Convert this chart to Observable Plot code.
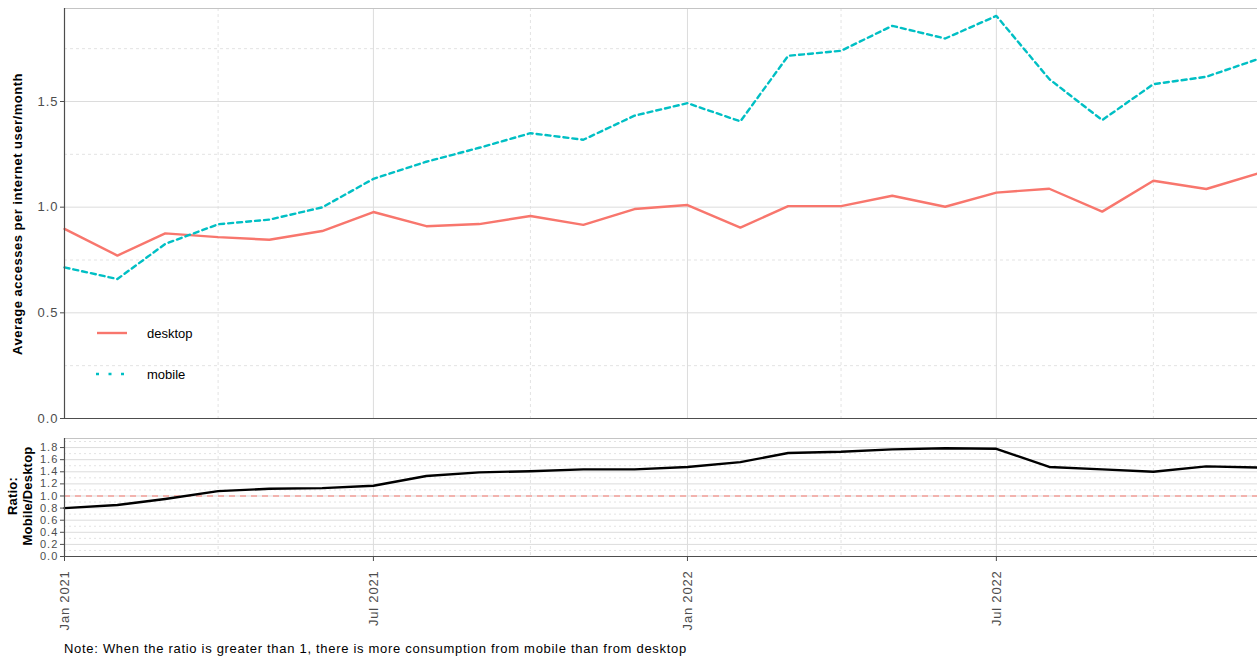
<!DOCTYPE html>
<html><head><meta charset="utf-8">
<script src="https://cdn.jsdelivr.net/npm/d3@7"></script>
<script src="https://cdn.jsdelivr.net/npm/@observablehq/plot@0.6"></script>
<style>
body{margin:0;background:#fff;font-family:"Liberation Sans",Arial,sans-serif;}
#wrap{position:relative;width:1257px;height:660px;overflow:hidden;background:#fff;}
.abs{position:absolute;}
.ytitle{position:absolute;font-weight:bold;font-size:13px;letter-spacing:0.5px;color:#000;white-space:nowrap;transform:translate(-50%,-50%) rotate(-90deg);text-align:center;line-height:15px;}
.yax text{letter-spacing:1px;}
.rax text{letter-spacing:1.1px;}
.xax text{letter-spacing:0.8px;}
</style></head><body><div id="wrap"></div>
<script>
// ---- data ----
const months = ["2021-01","2021-02","2021-03","2021-04","2021-05","2021-06","2021-07","2021-08","2021-09","2021-10","2021-11","2021-12",
                "2022-01","2022-02","2022-03","2022-04","2022-05","2022-06","2022-07","2022-08","2022-09","2022-10","2022-11","2022-12"];
const desktop = [0.897,0.771,0.876,0.858,0.846,0.887,0.977,0.910,0.920,0.958,0.916,0.991,
                 1.010,0.903,1.005,1.005,1.054,1.002,1.069,1.087,0.979,1.125,1.086,1.159];
const mobile  = [0.715,0.660,0.826,0.919,0.941,0.999,1.134,1.215,1.281,1.350,1.319,1.433,
                 1.492,1.406,1.716,1.740,1.858,1.798,1.905,1.606,1.412,1.582,1.617,1.700];
const ratio   = [0.80,0.85,0.95,1.08,1.12,1.13,1.17,1.33,1.39,1.41,1.44,1.44,
                 1.48,1.56,1.71,1.73,1.77,1.79,1.78,1.48,1.44,1.40,1.49,1.47];
const seriesNames = ["desktop","mobile"];
const topTicks = [0,0.5,1.0,1.5];
const topMinor = [0.25,0.75,1.25,1.75];
const ratioTicks = [0,0.2,0.4,0.6,0.8,1.0,1.2,1.4,1.6,1.8];
const ratioMinor = [0.1,0.3,0.5,0.7,0.9,1.1,1.3,1.5,1.7,1.9];
const xMajor = ["2021-01","2021-07","2022-01","2022-07"];
const xMinor = ["2021-04","2021-10","2022-04","2022-10"];
const yTitle = "Average accesses per internet user/month";
const ratioTitle = ["Ratio:","Mobile/Desktop"];
const note = "Note: When the ratio is greater than 1, there is more consumption from mobile than from desktop";

const parse = d3.utcParse("%Y-%m");
const dates = months.map(parse);
const xDomain = [dates[0], dates[dates.length-1]];
const xMajorD = xMajor.map(parse), xMinorD = xMinor.map(parse);
const colors = {desktop:"#F8766D", mobile:"#00BFC4"};
const rows = [];
months.forEach((m,i)=>{
  rows.push({date:dates[i], value:desktop[i], series:"desktop"});
  rows.push({date:dates[i], value:mobile[i], series:"mobile"});
});
const ratioRows = months.map((m,i)=>({date:dates[i], value:ratio[i]}));

const wrap = document.getElementById("wrap");
const gridMajor = "#dcdcdc", gridMinor = "#e3e3e3", axisCol = "#4d4d4d";

// ---- top panel ----
const topPlot = Plot.plot({
  width:1257, height:420, marginLeft:64, marginRight:0, marginTop:8, marginBottom:2,
  style:{fontFamily:"Liberation Sans, Arial, sans-serif", fontSize:"13px", background:"transparent", overflow:"visible"},
  x:{type:"utc", domain:xDomain, axis:null},
  y:{domain:[0,1.94], axis:null},
  marks:[
    Plot.gridY(topMinor,{stroke:gridMinor, strokeOpacity:1, strokeDasharray:"3,3"}),
    Plot.gridX(xMinorD,{stroke:gridMinor, strokeOpacity:1, strokeDasharray:"3,3"}),
    Plot.gridY(topTicks,{stroke:gridMajor, strokeOpacity:1}),
    Plot.gridX(xMajorD,{stroke:gridMajor, strokeOpacity:1}),
    Plot.frame({stroke:"#c4c4c4"}),
    Plot.lineY(rows.filter(d=>d.series==="desktop"),{x:"date", y:"value", stroke:colors.desktop, strokeWidth:2.4}),
    Plot.lineY(rows.filter(d=>d.series==="mobile"),{x:"date", y:"value", stroke:colors.mobile, strokeWidth:2.4, strokeDasharray:"5,4"}),
    Plot.ruleX([xDomain[0]],{stroke:axisCol, strokeWidth:1.2}),
    Plot.ruleY([0],{stroke:axisCol, strokeWidth:1.2}),
    Plot.axisY(topTicks,{tickFormat:d=>d.toFixed(1), fontSize:13, color:axisCol, tickSize:4, tickPadding:2, label:null, className:"yax"})
  ]
});
topPlot.classList.add("abs"); topPlot.style.left="0px"; topPlot.style.top="0px";
wrap.appendChild(topPlot);

// ---- ratio panel ----
const botPlot = Plot.plot({
  width:1257, height:206, marginLeft:64, marginRight:0, marginTop:8, marginBottom:80,
  style:{fontFamily:"Liberation Sans, Arial, sans-serif", fontSize:"13px", background:"transparent", overflow:"visible"},
  x:{type:"utc", domain:xDomain, axis:null},
  y:{domain:[0,1.95], axis:null},
  marks:[
    Plot.gridY(ratioMinor,{stroke:gridMinor, strokeOpacity:1, strokeDasharray:"2,3"}),
    Plot.gridX(xMinorD,{stroke:gridMinor, strokeOpacity:1, strokeDasharray:"3,3"}),
    Plot.gridY(ratioTicks,{stroke:gridMajor, strokeOpacity:1}),
    Plot.gridX(xMajorD,{stroke:gridMajor, strokeOpacity:1}),
    Plot.frame({stroke:"#c4c4c4"}),
    Plot.ruleY([1],{stroke:"#F8766D", strokeOpacity:0.65, strokeWidth:1.6, strokeDasharray:"6,5"}),
    Plot.lineY(ratioRows,{x:"date", y:"value", stroke:"#000", strokeWidth:2.4}),
    Plot.ruleX([xDomain[0]],{stroke:axisCol, strokeWidth:1.2}),
    Plot.ruleY([0],{stroke:axisCol, strokeWidth:1.2}),
    Plot.axisY(ratioTicks,{tickFormat:d=>d.toFixed(1), fontSize:11, color:axisCol, tickSize:4, tickPadding:2, label:null, className:"rax"}),
    Plot.axisX(xMajorD,{tickFormat:d3.utcFormat("%b %Y"), tickRotate:-90, fontSize:13, color:axisCol, tickSize:5, tickPadding:9, label:null, className:"xax"})
  ]
});
botPlot.classList.add("abs"); botPlot.style.left="0px"; botPlot.style.top="430px";
wrap.appendChild(botPlot);

// ---- titles ----
const t1 = document.createElement("div");
t1.className="ytitle"; t1.textContent=yTitle; t1.style.left="17px"; t1.style.top="214px";
wrap.appendChild(t1);
const t2 = document.createElement("div");
t2.className="ytitle"; t2.innerHTML=ratioTitle.join("<br>"); t2.style.left="20px"; t2.style.top="496px";
t2.style.letterSpacing="0.2px";
wrap.appendChild(t2);

// ---- legend ----
const leg = d3.select(wrap).append("svg").attr("class","abs")
  .style("left","90px").style("top","315px").attr("width",140).attr("height",80);
seriesNames.forEach((s,i)=>{
  const y = 18 + i*41;
  leg.append("line").attr("x1", s==="mobile" ? 6 : 7).attr("x2",37).attr("y1",y).attr("y2",y)
    .attr("stroke",colors[s]).attr("stroke-width",2.4)
    .attr("stroke-dasharray", s==="mobile" ? "3,9.5" : null);
  leg.append("text").attr("x",57).attr("y",y).attr("dy","0.35em")
    .attr("font-size",13).attr("font-family","Liberation Sans, Arial, sans-serif").attr("fill","#000").text(s);
});

// ---- note ----
const n = document.createElement("div");
n.className="abs"; n.textContent=note;
n.style.left="64px"; n.style.top="641px"; n.style.fontSize="13px"; n.style.letterSpacing="0.7px"; n.style.color="#000";
wrap.appendChild(n);
</script></body></html>
